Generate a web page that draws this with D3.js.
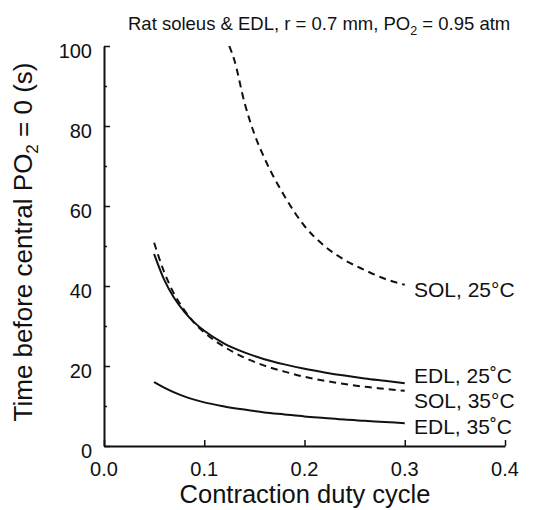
<!DOCTYPE html>
<html lang="en">
<head>
    <meta charset="UTF-8">
    <title>Time before central PO2 = 0</title>
    <script src="https://d3js.org/d3.v7.min.js"></script>
    <style>
        body { margin: 0; background: #fff; }
        svg { font-family: "Liberation Sans", Arial, Helvetica, sans-serif; }
        .curve { fill: none; stroke: #111; stroke-width: 2px; }
        text { fill: #111; }
    </style>
</head>
<body>
<div id="chart"></div>
<script>
    // values
    var dutyCycle = [0.05, 0.06, 0.07, 0.08, 0.09, 0.10, 0.12, 0.14, 0.16, 0.18, 0.20, 0.22, 0.24, 0.26, 0.28, 0.30];
    var edl25 = [48, 41.6, 37, 33.6, 30.9, 28.8, 25.6, 23.4, 21.7, 20.4, 19.3, 18.4, 17.6, 16.9, 16.3, 15.7];
    var sol35 = [50.8, 43.5, 38, 34, 30.8, 28.4, 24.8, 22.1, 20.1, 18.6, 17.3, 16.3, 15.5, 14.8, 14.3, 13.8];
    var edl35 = [16, 14.6, 13.4, 12.4, 11.6, 10.9, 9.9, 9.1, 8.4, 7.9, 7.4, 7.0, 6.6, 6.3, 6.0, 5.7];

    var dutyCycleSol25 = [0.125, 0.13, 0.14, 0.15, 0.16, 0.18, 0.20, 0.22, 0.24, 0.26, 0.28, 0.30];
    var sol25 = [100, 96.5, 86, 78, 72, 62.5, 55, 50, 46.5, 44, 41.8, 40.3];

    var xTicks = [0.0, 0.1, 0.2, 0.3, 0.4];
    var yTicks = [0, 20, 40, 60, 80, 100];
    var yMinorTicks = [10, 30, 50, 70, 90];

    var curveLabels = [
        {text: "SOL, 25\u00B0C", y: 297},
        {text: "EDL, 25\u02DAC", y: 383},
        {text: "SOL, 35\u00B0C", y: 408},
        {text: "EDL, 35\u02DAC", y: 434}
    ];

    var W = 539, H = 510;
    var x = d3.scaleLinear().domain([0, 0.4]).range([104, 505]);
    var y = d3.scaleLinear().domain([0, 100]).range([446, 46]);

    var svg = d3.select("#chart").append("svg")
        .attr("width", W)
        .attr("height", H);

    // axes, ticks pointing inward
    var yAxis = d3.axisLeft(y).tickValues(yTicks).tickSize(-6).tickFormat("").tickSizeOuter(0);
    svg.append("g").attr("transform", "translate(" + x(0) + ",0)").call(yAxis);
    var yMinor = d3.axisLeft(y).tickValues(yMinorTicks).tickSize(-3).tickFormat("").tickSizeOuter(0);
    var gym = svg.append("g").attr("transform", "translate(" + x(0) + ",0)").call(yMinor);
    gym.select(".domain").remove();

    var xAxis = d3.axisBottom(x).tickValues(xTicks).tickSize(-6).tickFormat("").tickSizeOuter(0);
    svg.append("g").attr("transform", "translate(0," + y(0) + ")").call(xAxis);

    svg.selectAll(".domain").attr("stroke", "#111").attr("stroke-width", 2);
    svg.selectAll(".tick line").attr("stroke", "#111").attr("stroke-width", 1.5);

    // tick labels
    svg.selectAll("text.ylab").data(yTicks).enter().append("text")
        .attr("class", "ylab")
        .attr("x", 92)
        .attr("y", function(d) { return y(d) + 12; })
        .attr("text-anchor", "end")
        .attr("font-size", 20)
        .text(function(d) { return d; });

    svg.selectAll("text.xlab").data(xTicks).enter().append("text")
        .attr("class", "xlab")
        .attr("x", function(d) { return x(d); })
        .attr("y", 476)
        .attr("text-anchor", "middle")
        .attr("font-size", 20)
        .text(function(d) { return d.toFixed(1); });

    // curves
    var line = d3.line()
        .x(function(d) { return x(d[0]); })
        .y(function(d) { return y(d[1]); })
        .curve(d3.curveMonotoneX);

    function addCurve(xs, ys, dashed) {
        svg.append("path")
            .datum(d3.zip(xs, ys))
            .attr("class", "curve")
            .attr("stroke-dasharray", dashed ? "7,5" : null)
            .attr("d", line);
    }
    addCurve(dutyCycleSol25, sol25, true);
    addCurve(dutyCycle, edl25, false);
    addCurve(dutyCycle, sol35, true);
    addCurve(dutyCycle, edl35, false);

    svg.selectAll("text.clab").data(curveLabels).enter().append("text")
        .attr("class", "clab")
        .attr("x", 414)
        .attr("y", function(d) { return d.y; })
        .attr("font-size", 21)
        .text(function(d) { return d.text; });

    // title
    var title = svg.append("text")
        .attr("x", 128)
        .attr("y", 30)
        .attr("font-size", 18.5);
    title.append("tspan").text("Rat soleus & EDL, r = 0.7 mm, PO");
    title.append("tspan").attr("font-size", 12.5).attr("dy", 5).text("2");
    title.append("tspan").attr("dy", -5).text(" = 0.95 atm");

    // axis titles
    svg.append("text")
        .attr("x", 305)
        .attr("y", 503)
        .attr("text-anchor", "middle")
        .attr("font-size", 25.5)
        .text("Contraction duty cycle");

    var yt = svg.append("text")
        .attr("transform", "translate(32,242) rotate(-90)")
        .attr("text-anchor", "middle")
        .attr("font-size", 26);
    yt.append("tspan").text("Time before central PO");
    yt.append("tspan").attr("font-size", 17).attr("dy", 6).text("2");
    yt.append("tspan").attr("dy", -6).text(" = 0 (s)");
</script>
</body>
</html>
